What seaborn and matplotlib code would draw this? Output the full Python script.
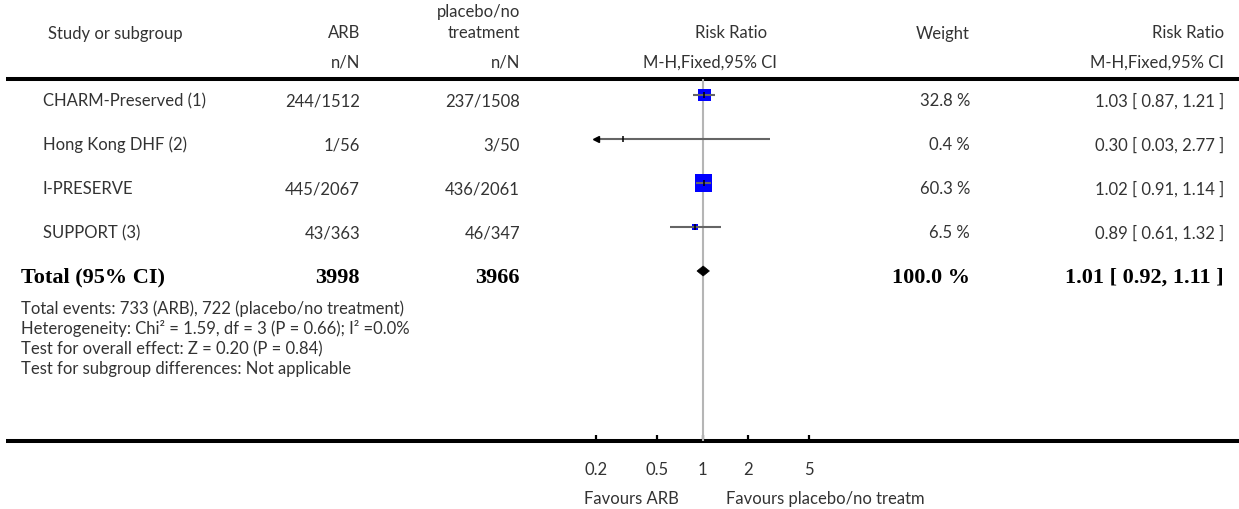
import matplotlib
matplotlib.use("Agg")
import matplotlib.pyplot as plt
import seaborn as sns
import pandas as pd
from matplotlib.patches import Polygon
from matplotlib.ticker import NullLocator

# ---------------- data ----------------
studies = ["CHARM-Preserved (1)", "Hong Kong DHF (2)", "I-PRESERVE", "SUPPORT (3)"]
arb_nN = ["244/1512", "1/56", "445/2067", "43/363"]
ctrl_nN = ["237/1508", "3/50", "436/2061", "46/347"]
rr = [1.03, 0.30, 1.02, 0.89]
rr_lo = [0.87, 0.03, 0.91, 0.61]
rr_hi = [1.21, 2.77, 1.14, 1.32]
weights = [32.8, 0.4, 60.3, 6.5]

total_label = "Total (95% CI)"
total_arb = "3998"
total_ctrl = "3966"
total_weight = 100.0
total_rr, total_lo, total_hi = 1.01, 0.92, 1.11

footnotes = [
    "Total events: 733 (ARB), 722 (placebo/no treatment)",
    "Heterogeneity: Chi\u00b2 = 1.59, df = 3 (P = 0.66); I\u00b2 =0.0%",
    "Test for overall effect: Z = 0.20 (P = 0.84)",
    "Test for subgroup differences: Not applicable",
]
tick_values = [0.2, 0.5, 1, 2, 5]
tick_labels = ["0.2", "0.5", "1", "2", "5"]
x_limits = (0.2, 5)
favours_left = "Favours ARB"
favours_right = "Favours placebo/no treatm"

# ---------------- style ----------------
sns.set_theme(style="white")
plt.rcParams['font.family'] = ['Lato', 'DejaVu Sans']
TXT = '#333333'
FS = 12

W, H = 1239, 510
fig = plt.figure(figsize=(W / 100, H / 100), dpi=100)
bg = fig.add_axes([0, 0, 1, 1])
bg.set_xlim(0, W)
bg.set_ylim(H, 0)
bg.axis('off')

TOP, BOT = 80, 442
PX0, PX1 = 596, 809
fa = fig.add_axes([PX0 / W, 1 - BOT / H, (PX1 - PX0) / W, (BOT - TOP) / H])
fa.set_facecolor('none')
fa.set_xscale('log')
fa.set_xlim(*x_limits)
fa.set_ylim(BOT, TOP)

# rows
row0, step = 96, 44
rows_y = [row0 + step * i for i in range(len(studies))]
total_y = row0 + step * len(studies)

# reference line
fa.axvline(1, color='#b5b5b5', lw=1.5, zorder=1)

# squares
df = pd.DataFrame({"rr": rr, "y": rows_y, "w": weights})
sns.scatterplot(data=df, x="rr", y="y", size="w", sizes=(1, 150), size_norm=(0.4, 60.3),
                marker='s', color='#0000ff', linewidth=0, legend=False, ax=fa, zorder=2)

# CI lines
lo_draw = [max(l, x_limits[0]) for l in rr_lo]
hi_draw = [min(h, x_limits[1]) for h in rr_hi]
fa.hlines(rows_y, lo_draw, hi_draw, color='#656565', lw=1.5, zorder=3)
fa.scatter(rr, rows_y, marker='|', s=22, color='black', linewidths=1.1, zorder=4)
for l, y in zip(rr_lo, rows_y):
    if l < x_limits[0]:
        fa.plot([x_limits[0]], [y], marker='<', ms=4.5, color='black', clip_on=False, zorder=4)

# diamond
fa.add_patch(Polygon([(total_lo, total_y), (total_rr, total_y - 5), (total_hi, total_y),
                      (total_rr, total_y + 5)], closed=True, facecolor='black',
                     edgecolor='black', lw=0.5, zorder=4))

# axis styling
for s in fa.spines.values():
    s.set_visible(False)
fa.set_xlabel("")
fa.set_ylabel("")
fa.set_yticks([])
fa.set_xticks(tick_values)
fa.set_xticklabels(tick_labels)
fa.xaxis.set_minor_locator(NullLocator())
fa.tick_params(axis='x', which='major', bottom=True, direction='in', length=4.5, width=1.6,
               color='black', pad=14.5, labelsize=FS, labelcolor=TXT)
fa.set_xlim(*x_limits)
fa.set_ylim(BOT, TOP)
fa.grid(False)

# full-width rules
bg.hlines([TOP, BOT], 6, W, color='black', lw=2.9)

# ---------------- text ----------------
def t(x, y, s, ha='left', **kw):
    kw.setdefault('color', TXT)
    kw.setdefault('fontsize', FS)
    bg.text(x, y, s, ha=ha, va='baseline', **kw)

# headers
t(48, 38.5, "Study or subgroup")
t(360, 38.5, "ARB", ha='right')
t(520, 17.5, "placebo/no", ha='right')
t(520, 38.5, "treatment", ha='right')
t(731, 38.5, "Risk Ratio", ha='center')
t(970, 38.5, "Weight", ha='right')
t(1224, 38.5, "Risk Ratio", ha='right')
t(360, 68, "n/N", ha='right')
t(520, 68, "n/N", ha='right')
t(710, 68, "M-H,Fixed,95% CI", ha='center')
t(1224, 68, "M-H,Fixed,95% CI", ha='right')

# study rows
for i, y in enumerate(rows_y):
    b = y + 10.5
    t(43, b, studies[i])
    t(360, b, arb_nN[i], ha='right')
    t(520, b, ctrl_nN[i], ha='right')
    t(970, b, f"{weights[i]:.1f} %", ha='right')
    t(1224, b, f"{rr[i]:.2f} [ {rr_lo[i]:.2f}, {rr_hi[i]:.2f} ]", ha='right')

# total row
bold = dict(color='black', fontsize=16, fontweight='bold', family=['Liberation Serif'])
tb = total_y + 10.7
t(21, tb, total_label, **bold)
t(360, tb, total_arb, ha='right', **bold)
t(520, tb, total_ctrl, ha='right', **bold)
t(970, tb, f"{total_weight:.1f} %", ha='right', **bold)
t(1224, tb, f"{total_rr:.2f} [ {total_lo:.2f}, {total_hi:.2f} ]", ha='right', **bold)

# footnotes
for k, s in enumerate(footnotes):
    t(21, 314 + 20 * k, s)

# favours
t(679, 504, favours_left, ha='right')
t(726, 504, favours_right, ha='left')

fig.savefig("out.png", dpi=100)
